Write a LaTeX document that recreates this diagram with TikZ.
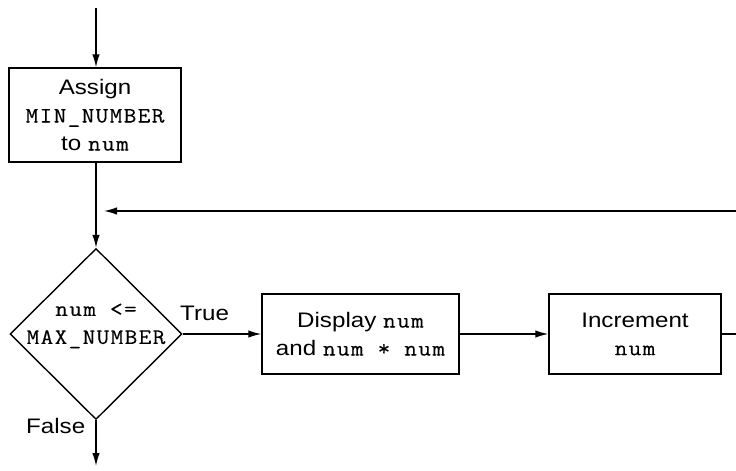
\documentclass[tikz,border=0pt]{standalone}
\usepackage{fontspec}
\setmainfont{Liberation Sans}[FakeStretch=1.15]
\newfontfamily\codefont{Latin Modern Mono}[FakeStretch=1.12,LetterSpace=6,FakeBold=0.2]
\newcommand\cd[1]{{\fontsize{22}{28}\selectfont\codefont #1}}
\usetikzlibrary{arrows.meta,shapes.geometric}
\tikzset{
  every node/.style={font=\fontsize{21}{28}\selectfont},
  proc/.style={draw, line width=1.4pt, minimum width=#1, align=center, inner sep=0pt},
  dec/.style={draw, diamond, line width=1.4pt, minimum width=172pt, minimum height=171pt, inner sep=0pt},
  flow/.style={line width=1.4pt, -{Latex[length=13pt,width=7.5pt]}},
  plain/.style={line width=1.4pt},
  lbl/.style={inner sep=0pt}
}
\begin{document}
\begin{tikzpicture}[x=1pt,y=-1pt]
\useasboundingbox (0,0) rectangle (736,471);
\clip (0,0) rectangle (736,471);
\coordinate (start) at (96,8);
\node[proc=172pt, minimum height=94pt] (assign) at (95,115) {Assign\\\cd{MIN\_NUMBER}\\to \cd{num}};
\node[dec] (test) at (96,334) {};
\node[lbl, align=center] (testtxt) at (96,326) {\cd{num <=}\\\cd{MAX\_NUMBER}};
\node[proc=197pt, minimum height=80pt] (disp) at (360.5,334) {Display \cd{num}\\and \cd{num * num}};
\node[proc=172pt, minimum height=80pt] (inc) at (635,334) {Increment\\\cd{num}};
\node[lbl, anchor=base west] (true) at (180,320) {True};
\node[lbl, anchor=base west] (false) at (26,433) {False};
\coordinate (join) at (104,211);
\coordinate (loopr) at (760,211);
\coordinate (end) at (96,466);
\draw[flow] (start) -- (assign.north -| start);
\draw[flow] (assign.south -| test.north) -- (test.north);
\draw[flow] (loopr) -- (join);
\draw[flow] (test.east) -- (disp.west);
\draw[flow] (disp.east) -- (inc.west);
\draw[plain] (inc.east) -- (inc.east -| loopr) -- (loopr);
\draw[flow] (test.south) -- (end);
\end{tikzpicture}
\end{document}
